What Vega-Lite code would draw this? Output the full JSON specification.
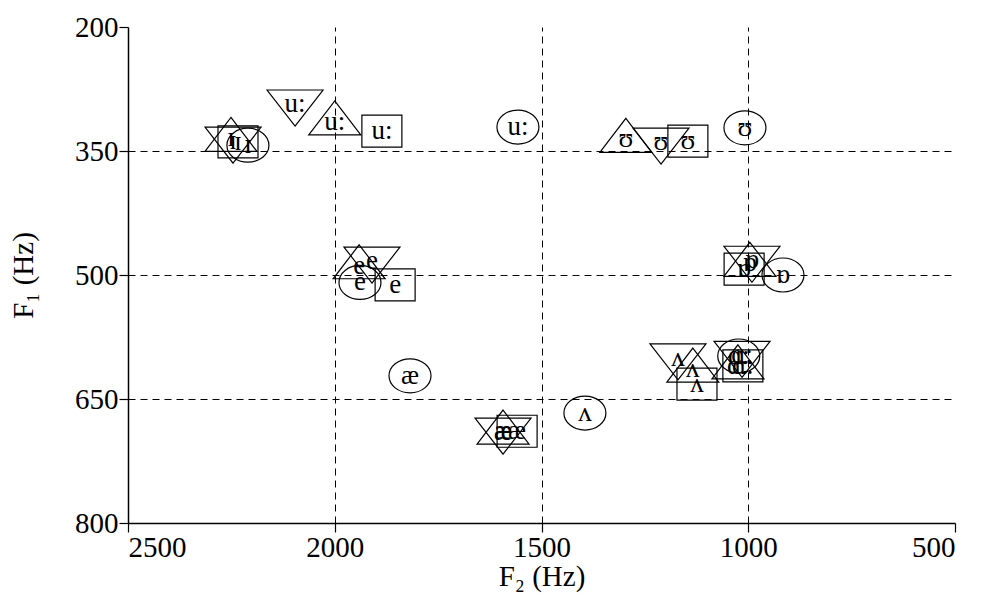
{
  "$schema": "https://vega.github.io/schema/vega-lite/v6.json",
  "width": 827,
  "height": 496,
  "autosize": {"type": "none"},
  "padding": {"left": 128, "top": 27, "right": 26, "bottom": 74},
  "background": "white",
  "config": {
    "view": {"stroke": null},
    "font": "Liberation Serif",
    "axis": {
      "labelFont": "Liberation Serif",
      "titleFont": "Liberation Serif",
      "labelFontSize": 29,
      "titleFontSize": 29,
      "titleFontWeight": "normal",
      "labelColor": "black",
      "titleColor": "black",
      "domainColor": "black",
      "domainWidth": 1.5,
      "tickColor": "black",
      "tickWidth": 1.2,
      "tickSize": 9,
      "labelPadding": 1,
      "gridDash": [7, 5],
      "gridWidth": 1,
      "format": "d"
    }
  },
  "data": {
    "values": [
      {"v": "ɪ", "f2": 2246, "f1": 343, "s": "down"},
      {"v": "ɪ", "f2": 2251, "f1": 330, "s": "up"},
      {"v": "ɪ", "f2": 2234, "f1": 339, "s": "square"},
      {"v": "ɪ", "f2": 2210, "f1": 343, "s": "circle"},
      {"v": "u:", "f2": 2096, "f1": 298, "s": "down"},
      {"v": "u:", "f2": 2000, "f1": 310, "s": "up"},
      {"v": "u:", "f2": 1886, "f1": 326, "s": "square"},
      {"v": "u:", "f2": 1557, "f1": 321, "s": "circle"},
      {"v": "ʊ", "f2": 1296, "f1": 331, "s": "up"},
      {"v": "ʊ", "f2": 1211, "f1": 344, "s": "down"},
      {"v": "ʊ", "f2": 1146, "f1": 338, "s": "square"},
      {"v": "ʊ", "f2": 1008, "f1": 322, "s": "circle"},
      {"v": "e", "f2": 1910, "f1": 488, "s": "down"},
      {"v": "e", "f2": 1941, "f1": 484, "s": "up"},
      {"v": "e", "f2": 1939, "f1": 509, "s": "circle"},
      {"v": "e", "f2": 1854, "f1": 512, "s": "square"},
      {"v": "ɒ", "f2": 1010, "f1": 493, "s": "square"},
      {"v": "ɒ", "f2": 991, "f1": 487, "s": "down"},
      {"v": "ɒ", "f2": 996, "f1": 481, "s": "up"},
      {"v": "ɒ", "f2": 916, "f1": 500, "s": "circle"},
      {"v": "ʌ", "f2": 1170, "f1": 605, "s": "down"},
      {"v": "ʌ", "f2": 1134, "f1": 609, "s": "up"},
      {"v": "ʌ", "f2": 1124, "f1": 632, "s": "square"},
      {"v": "ʌ", "f2": 1395, "f1": 667, "s": "circle"},
      {"v": "ɑ:", "f2": 1015, "f1": 602, "s": "down"},
      {"v": "ɑ:", "f2": 1025, "f1": 605, "s": "up"},
      {"v": "ɑ:", "f2": 1023, "f1": 598, "s": "circle"},
      {"v": "ɑ:", "f2": 1013, "f1": 610, "s": "square"},
      {"v": "æ", "f2": 1593, "f1": 695, "s": "down"},
      {"v": "æ", "f2": 1593, "f1": 684, "s": "up"},
      {"v": "æ", "f2": 1559, "f1": 689, "s": "square"},
      {"v": "æ", "f2": 1818, "f1": 622, "s": "circle"}
    ]
  },
  "encoding": {
    "x": {
      "field": "f2",
      "type": "quantitative",
      "scale": {"domain": [2500, 500], "nice": false, "zero": false},
      "axis": {
        "title": "F₂ (Hz)",
        "values": [2500, 2000, 1500, 1000, 500],
        "grid": true,
        "gridColor": {"condition": {"test": "datum.value == 500 || datum.value == 2500", "value": "transparent"}, "value": "black"},
        "titlePadding": 0
      }
    },
    "y": {
      "field": "f1",
      "type": "quantitative",
      "scale": {"domain": [200, 800], "reverse": true, "nice": false, "zero": false},
      "axis": {
        "title": "F₁ (Hz)",
        "values": [200, 350, 500, 650, 800],
        "grid": true,
        "gridColor": {"condition": {"test": "datum.value == 200 || datum.value == 800", "value": "transparent"}, "value": "black"},
        "titlePadding": 36
      }
    }
  },
  "layer": [
    {
      "mark": {"type": "point", "filled": false, "stroke": "black", "strokeWidth": 1.2, "opacity": 1, "size": 400},
      "encoding": {
        "shape": {
          "field": "s",
          "type": "nominal",
          "legend": null,
          "scale": {
            "domain": ["circle", "square", "up", "down"],
            "range": [
              "M-2.1,0A2.1,1.7,0,1,0,2.1,0A2.1,1.7,0,1,0,-2.1,0Z",
              "M-2,-1.6L2,-1.6L2,1.6L-2,1.6Z",
              "M0,-1.7L2.6,1.7L-2.6,1.7Z",
              "M0,1.8L2.8,-1.8L-2.8,-1.8Z"
            ]
          }
        }
      }
    },
    {
      "transform": [{"filter": "datum.s == 'circle' || datum.s == 'square'"}],
      "mark": {"type": "text", "font": "Liberation Serif", "fontSize": 27, "color": "black", "baseline": "middle", "align": "center"},
      "encoding": {"text": {"field": "v"}}
    },
    {
      "transform": [{"filter": "datum.s == 'up'"}],
      "mark": {"type": "text", "font": "Liberation Serif", "fontSize": 27, "color": "black", "baseline": "middle", "align": "center", "dy": 4},
      "encoding": {"text": {"field": "v"}}
    },
    {
      "transform": [{"filter": "datum.s == 'down'"}],
      "mark": {"type": "text", "font": "Liberation Serif", "fontSize": 27, "color": "black", "baseline": "middle", "align": "center", "dy": -4},
      "encoding": {"text": {"field": "v"}}
    }
  ]
}
